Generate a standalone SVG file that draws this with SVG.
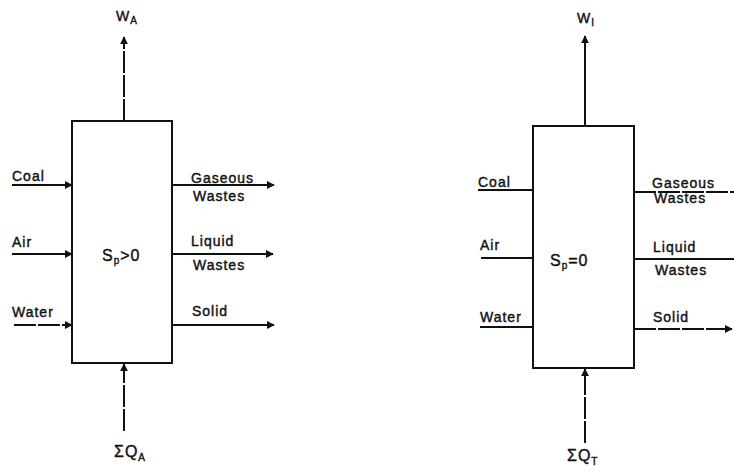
<svg xmlns="http://www.w3.org/2000/svg" width="734" height="471" viewBox="0 0 734 471">
<defs>
<style>
.box{fill:none;stroke:#111;stroke-width:2}
.ln{fill:none;stroke:#111;stroke-width:2}
.dash{stroke-dasharray:22 2}
.t{font-family:"Liberation Sans",Arial,sans-serif;font-size:14px;fill:#111;stroke:#111;stroke-width:0.4;letter-spacing:1px}
.big{font-size:16px}
.sub{font-size:10px}
</style>
<marker id="ah" viewBox="0 0 10 10" refX="9" refY="5" markerWidth="4" markerHeight="4" orient="auto" markerUnits="strokeWidth">
<path d="M0,0 L10,5 L0,10 z" fill="#111"/>
</marker>
</defs>
<rect width="734" height="471" fill="#fff"/>

<g id="processA">
<rect class="box" x="72" y="121" width="100" height="242"/>
<text class="t big" x="102" y="261">S<tspan class="sub" dy="3">p</tspan><tspan dy="-3">&gt;0</tspan></text>
</g>
<g id="processI">
<rect class="box" x="533" y="126" width="101" height="242"/>
<text class="t big" x="550" y="266">S<tspan class="sub" dy="3">p</tspan><tspan dy="-3">=0</tspan></text>
</g>

<g id="labelsA">
<text class="t" x="116" y="21">W<tspan class="sub" dy="3">A</tspan></text>
<text class="t big" x="114" y="457">ΣQ<tspan class="sub" dy="4">A</tspan></text>
<text class="t" x="12" y="181">Coal</text>
<text class="t" x="12" y="247">Air</text>
<text class="t" x="12" y="317">Water</text>
<text class="t" x="191" y="183">Gaseous</text>
<text class="t" x="193" y="201">Wastes</text>
<text class="t" x="191" y="246">Liquid</text>
<text class="t" x="193" y="270">Wastes</text>
<text class="t" x="192" y="316">Solid</text>
</g>
<g id="labelsI">
<text class="t" x="577" y="23">W<tspan class="sub" dy="3">I</tspan></text>
<text class="t big" x="567" y="461">ΣQ<tspan class="sub" dy="4">T</tspan></text>
<text class="t" x="478" y="187">Coal</text>
<text class="t" x="480" y="250">Air</text>
<text class="t" x="480" y="322">Water</text>
<text class="t" x="652" y="188">Gaseous</text>
<text class="t" x="654" y="203">Wastes</text>
<text class="t" x="653" y="252">Liquid</text>
<text class="t" x="655" y="275">Wastes</text>
<text class="t" x="653" y="322">Solid</text>
</g>

<g id="connectors">
<line class="ln dash" x1="124" y1="121" x2="124" y2="37" marker-end="url(#ah)"/>
<line class="ln dash" x1="124" y1="431" x2="124" y2="364" marker-end="url(#ah)"/>
<line class="ln" x1="12" y1="185" x2="72" y2="185" marker-end="url(#ah)"/>
<line class="ln" x1="12" y1="254" x2="72" y2="254" marker-end="url(#ah)"/>
<line class="ln dash" x1="14" y1="325" x2="72" y2="325" marker-end="url(#ah)"/>
<line class="ln" x1="172" y1="185" x2="274" y2="185" marker-end="url(#ah)"/>
<line class="ln" x1="172" y1="254" x2="273" y2="254" marker-end="url(#ah)"/>
<line class="ln" x1="172" y1="325" x2="274" y2="325" marker-end="url(#ah)"/>

<line class="ln" x1="585" y1="126" x2="585" y2="36" marker-end="url(#ah)"/>
<line class="ln dash" x1="585" y1="443" x2="585" y2="369" marker-end="url(#ah)"/>
<line class="ln" x1="478" y1="190" x2="533" y2="190"/>
<line class="ln" x1="481" y1="258" x2="533" y2="258"/>
<line class="ln" x1="480" y1="327" x2="533" y2="327"/>
<line class="ln dash" x1="634" y1="192" x2="734" y2="192"/>
<line class="ln" x1="634" y1="259" x2="734" y2="259"/>
<line class="ln dash" x1="634" y1="329" x2="732" y2="329" marker-end="url(#ah)"/>
</g>
</svg>
